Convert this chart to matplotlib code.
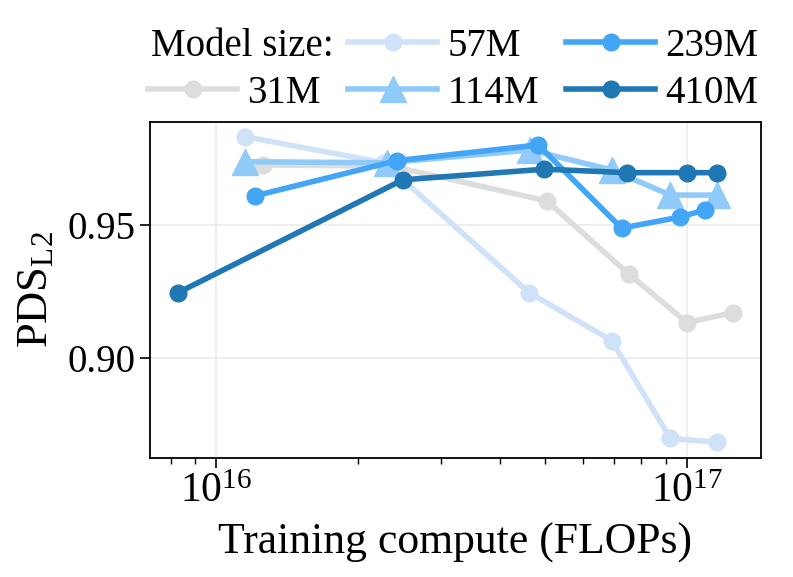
import matplotlib
matplotlib.use('Agg')
import matplotlib.pyplot as plt
from matplotlib.lines import Line2D
from matplotlib.ticker import MultipleLocator, FormatStrFormatter, LogLocator, NullFormatter

plt.rcParams['font.family'] = ['Liberation Serif', 'DejaVu Serif']
plt.rcParams['mathtext.fontset'] = 'custom'
plt.rcParams['mathtext.rm'] = 'Liberation Serif'
plt.rcParams['mathtext.it'] = 'Liberation Serif:italic'

# Model sizes and their colours / markers
model_sizes = ['31M', '57M', '114M', '239M', '410M']
colors = ['#dddddd', '#cfe2f8', '#90caf9', '#42a5f5', '#1f77b4']
markers = ['o', 'o', '^', 'o', 'o']

# Training compute (FLOPs) per model
flops_31m = [1.26e16, 2.36e16, 5.04e16, 7.53e16, 1.00e17, 1.25e17]
flops_57m = [1.15e16, 2.27e16, 4.62e16, 6.92e16, 9.21e16, 1.156e17]
flops_114m = [1.15e16, 2.30e16, 4.64e16, 6.92e16, 9.21e16, 1.156e17]
flops_239m = [1.21e16, 2.42e16, 4.83e16, 7.26e16, 9.64e16, 1.09e17]
flops_410m = [8.3e15, 2.49e16, 4.98e16, 7.45e16, 9.98e16, 1.156e17]

# PDS_L2 per model
pds_31m = [0.9725, 0.9720, 0.9590, 0.9315, 0.9134, 0.9171]
pds_57m = [0.9831, 0.9733, 0.9246, 0.9066, 0.8700, 0.8685]
pds_114m = [0.9737, 0.9733, 0.9781, 0.9706, 0.9612, 0.9612]
pds_239m = [0.9609, 0.9741, 0.9800, 0.9488, 0.9529, 0.9556]
pds_410m = [0.9246, 0.9669, 0.9709, 0.9696, 0.9696, 0.9696]

all_flops = [flops_31m, flops_57m, flops_114m, flops_239m, flops_410m]
all_pds = [pds_31m, pds_57m, pds_114m, pds_239m, pds_410m]

fig = plt.figure(figsize=(7.93, 5.77), dpi=100)
ax = fig.add_axes([0.189, 0.2062, 0.7707, 0.5824])

handles = []
for size, c, m, xs, ys in zip(model_sizes, colors, markers, all_flops, all_pds):
    ms = 19 if m == '^' else 12
    line, = ax.plot(xs, ys, color=c, marker=m, markersize=ms, linewidth=4, label=size)
    handles.append(line)

ax.set_xscale('log')
ax.set_xlim(7.23e15, 1.436e17)
ax.set_ylim(0.8626, 0.9886)
ax.yaxis.set_major_locator(MultipleLocator(0.05))
ax.yaxis.set_major_formatter(FormatStrFormatter('%.2f'))
ax.xaxis.set_major_locator(LogLocator(base=10))
ax.xaxis.set_minor_locator(LogLocator(base=10, subs=range(2, 10)))
ax.xaxis.set_minor_formatter(NullFormatter())

ax.grid(True, which='major', color='#ebebeb', linewidth=1.2)
ax.set_axisbelow(True)
for s in ax.spines.values():
    s.set_linewidth(1.3)
ax.tick_params(axis='y', which='major', labelsize=28, length=7, width=1.2)
ax.tick_params(axis='x', which='major', labelsize=30, length=7, width=1.2)
ax.tick_params(axis='both', which='minor', length=4, width=1)

ax.set_xlabel('Training compute (FLOPs)', fontsize=31.5, labelpad=8)
ax.set_ylabel(r'PDS$_{\mathrm{L2}}$', fontsize=32, labelpad=8)

# legend: blank slot first, "Model size:" drawn on top of it
blank = Line2D([], [], linestyle='none')
leg = ax.legend([blank] + handles, [''] + model_sizes, ncol=3, loc='center left',
                bbox_to_anchor=(0.1866, 0.879), bbox_transform=fig.transFigure,
                frameon=False, fontsize=28, borderpad=0, borderaxespad=0,
                handlelength=2.3, handletextpad=0.26, columnspacing=0.69,
                labelspacing=0.27)

fig.canvas.draw()
bb = leg.get_texts()[2].get_window_extent()
fig.text(0.191, bb.y0 / fig.bbox.height, 'Model size:', fontsize=28, va='bottom', ha='left')

fig.savefig('out.png', dpi=100)
